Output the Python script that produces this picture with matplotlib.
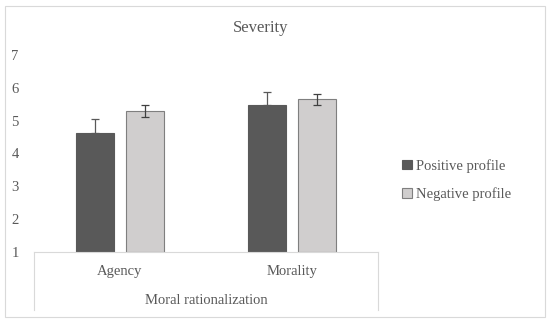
import matplotlib.pyplot as plt
import numpy as np
from matplotlib.patches import Rectangle

categories = ['Agency', 'Morality']
positive = [4.63, 5.47]
positive_err = [0.42, 0.41]
negative = [5.30, 5.65]
negative_err = [0.18, 0.17]
yticks = [1, 2, 3, 4, 5, 6, 7]

grey_text = '#595959'
plt.rcParams['font.family'] = ['Liberation Serif', 'DejaVu Serif']

fig = plt.figure(figsize=(5.5, 3.23), dpi=100)
ax = fig.add_axes([34 / 550, 1 - 252 / 323, 344 / 550, 197 / 323])

x = np.arange(len(categories))
w = 0.22
ax.bar(x - 0.143, np.array(positive) - 1, w, bottom=1, color='#595959',
       edgecolor='#595959', linewidth=0.8, label='Positive profile', zorder=2)
ax.bar(x + 0.143, np.array(negative) - 1, w, bottom=1, color='#d0cece',
       edgecolor='#7f7f7f', linewidth=0.8, label='Negative profile', zorder=2)

# error bars: positive profile only shows upper part above the bar
ax.errorbar(x - 0.143, positive, yerr=[np.zeros(2), positive_err], fmt='none',
            ecolor='#595959', elinewidth=0.9, capsize=3, capthick=0.9, zorder=3)
ax.errorbar(x + 0.143, negative, yerr=negative_err, fmt='none',
            ecolor='#404040', elinewidth=0.9, capsize=3, capthick=0.9, zorder=3)

ax.set_xlim(-0.5, 1.5)
ax.set_ylim(1, 7)
ax.set_yticks(yticks)
ax.set_xticks([])
for s in ['top', 'right', 'left']:
    ax.spines[s].set_visible(False)
ax.spines['bottom'].set_color('#d9d9d9')
ax.tick_params(axis='y', length=0, labelsize=10.5, labelcolor=grey_text, pad=11)

# category box below the axis
depth = (310 - 252) / 197
for xe in [-0.5, 1.5]:
    ax.plot([xe, xe], [0, -depth], transform=ax.get_xaxis_transform(),
            color='#d9d9d9', lw=0.8, clip_on=False)
for xi, c in zip(x, categories):
    ax.text(xi, -20 / 197, c, transform=ax.get_xaxis_transform(),
            ha='center', va='center', fontsize=10.5, color=grey_text)
ax.text(0.5, -49 / 197, 'Moral rationalization', transform=ax.transAxes,
        ha='center', va='center', fontsize=10.5, color=grey_text)

fig.text(261 / 550, 1 - 28 / 323, 'Severity', ha='center', va='center',
         fontsize=12, color=grey_text)

leg = fig.legend(loc='center left', bbox_to_anchor=(389 / 550, 1 - 180 / 323),
                 frameon=False, fontsize=10.5, handlelength=0.65, handleheight=0.65,
                 handletextpad=0.3, labelspacing=1.0, labelcolor=grey_text)

fig.add_artist(Rectangle((5 / 550, 6 / 323), 540 / 550, 311 / 323,
                         transform=fig.transFigure, fill=False,
                         edgecolor='#d9d9d9', lw=0.8))

fig.savefig('out.png', dpi=100)
